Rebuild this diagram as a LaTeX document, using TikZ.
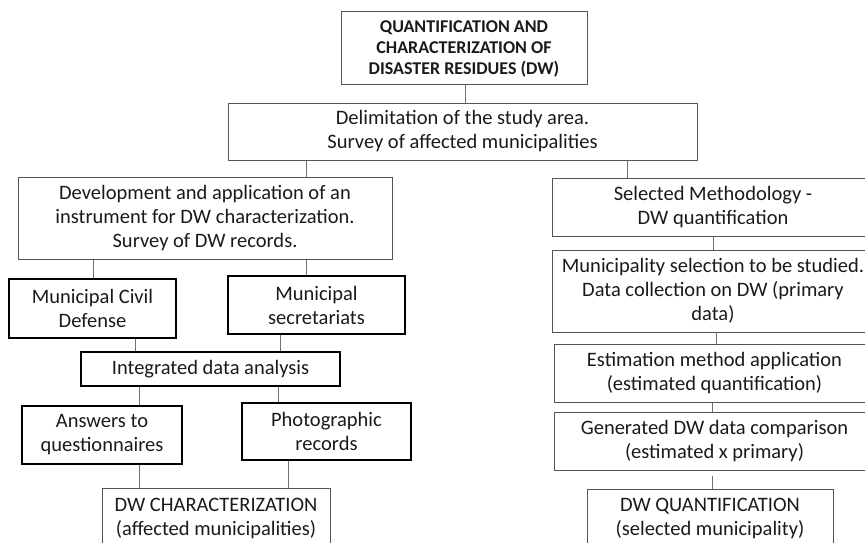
\documentclass[tikz,border=0pt]{standalone}
\usepackage{fontspec}
\setmainfont{Carlito}
\definecolor{thinline}{HTML}{555555}
\definecolor{conn}{HTML}{707070}
\definecolor{txt}{HTML}{1A1A1A}
\begin{document}
\begin{tikzpicture}[x=1pt,y=-1pt,
  label/.style={rectangle, inner sep=0pt, align=center,
    text=txt, font=\fontsize{20.5}{24}\selectfont},
  box/.style={label, draw=thinline, line width=1pt},
  boldbox/.style={box, line width=1.1pt, draw=black},
  titlebox/.style={box, font=\fontsize{18}{21}\bfseries\selectfont},
  link/.style={draw=conn, line width=1pt}]
\useasboundingbox (0,0) rectangle (865,543);
\clip (0,0) rectangle (865,543);
% helper coordinates for connector x-positions
\coordinate (xa) at (465,0);
\coordinate (xb) at (306,0);
\coordinate (xc) at (627,0);
\coordinate (xd) at (93,0);
\coordinate (xe) at (135,0);
\coordinate (xf) at (280,0);
\coordinate (xg) at (139,0);
\coordinate (xh) at (278,0);
\coordinate (xi) at (288,0);
\coordinate (xj) at (713,0);
\coordinate (xk) at (716,0);
\coordinate (xl) at (712,0);
% left / top nodes
\node[titlebox, minimum width=246, minimum height=73] (top) at (464,48.5)
  {QUANTIFICATION AND\\CHARACTERIZATION OF\\DISASTER RESIDUES (DW)};
\node[box, minimum width=469, minimum height=57] (delim) at (462.5,131.5)
  {Delimitation of the study area.\\Survey of affected municipalities};
\node[box, minimum width=374, minimum height=82] (dev) at (205,218)
  {Development and application of an\\instrument for DW characterization.\\Survey of DW records.};
\node[boldbox, minimum width=167, minimum height=59] (civil) at (92.5,308.5)
  {Municipal Civil\\Defense};
\node[boldbox, minimum width=177, minimum height=58] (secr) at (316.5,305)
  {Municipal\\secretariats};
\node[boldbox, minimum width=259, minimum height=34] (integ) at (210.5,369)
  {Integrated data analysis};
\node[boldbox, minimum width=160, minimum height=58] (answ) at (102,435)
  {Answers to\\questionnaires};
\node[boldbox, minimum width=169, minimum height=57] (photo) at (326.5,431.5)
  {Photographic\\records};
\node[box, minimum width=228, minimum height=72] (dwchar) at (216,524) {};
\node[label] (dwchartext) at (216,518) {DW CHARACTERIZATION\\(affected municipalities)};
% right nodes
\node[box, minimum width=322, minimum height=58] (sel) at (713,207)
  {Selected Methodology -\\DW quantification};
\node[box, minimum width=322, minimum height=82] (munic) at (713,291)
  {Municipality selection to be studied.\\Data collection on DW (primary\\data)};
\node[box, minimum width=321, minimum height=58] (estim) at (714.5,373)
  {Estimation method application\\(estimated quantification)};
\node[box, minimum width=321, minimum height=58] (gener) at (714.5,441)
  {Generated DW data comparison\\(estimated x primary)};
\node[box, minimum width=246, minimum height=72] (dwquant) at (710,525) {};
\node[label] (dwquanttext) at (710,518) {DW QUANTIFICATION\\(selected municipality)};
% connectors
\draw[link] (top.south -| xa) -- (delim.north -| xa);
\draw[link] (delim.south -| xb) -- (dev.north -| xb);
\draw[link] (delim.south -| xc) -- (sel.north -| xc);
\draw[link] (dev.south -| xd) -- (civil.north -| xd);
\draw[link] (dev.south -| xb) -- (secr.north -| xb);
\draw[link] (civil.south -| xe) -- (integ.north -| xe);
\draw[link] (secr.south -| xf) -- (integ.north -| xf);
\draw[link] (integ.south -| xg) -- (answ.north -| xg);
\draw[link] (integ.south -| xh) -- (photo.north -| xh);
\draw[link] (answ.south -| xg) -- (dwchar.north -| xg);
\draw[link] (photo.south -| xi) -- (dwchar.north -| xi);
\draw[link] (sel.south -| xj) -- (munic.north -| xj);
\draw[link] (munic.south -| xk) -- (estim.north -| xk);
\draw[link] (estim.south -| xl) -- (gener.north -| xl);
\draw[link] ([yshift=-5pt]gener.south -| xl) -- (dwquant.north -| xl);
\end{tikzpicture}
\end{document}
